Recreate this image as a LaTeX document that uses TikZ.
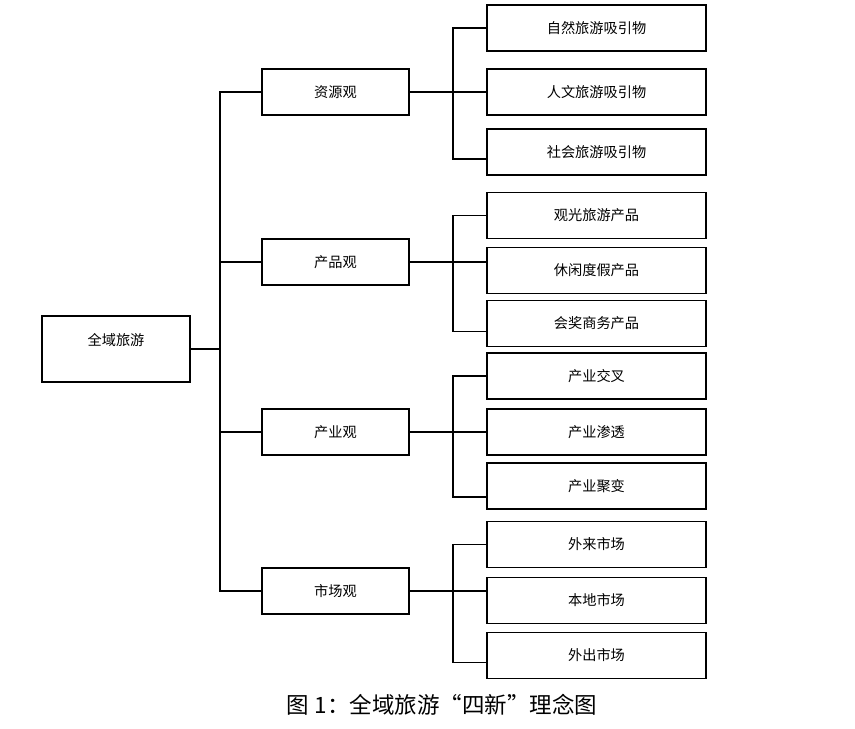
\documentclass[tikz,border=0pt]{standalone}
\usepackage{fontspec}
\newfontfamily\cjk{Noto Sans CJK SC}

\begin{document}
\begin{tikzpicture}[
        x=1pt, y=-1pt,
        font=\cjk\fontsize{14.2}{17}\selectfont,
        line width=1.1pt,
        rootbox/.style={draw, minimum width=148pt, minimum height=66pt, text depth=20pt, inner sep=0pt},
        midbox/.style={draw, minimum width=147pt, minimum height=46pt, inner sep=0pt},
        leafbox/.style={draw, minimum width=219pt, minimum height=46pt, inner sep=0pt},
        caption/.style={font=\cjk\fontsize{22.5}{26}\selectfont}
    ]

        \useasboundingbox (0,0) rectangle (855,729);

        % ========================================================
        % RAIZ
        % ========================================================
        \node[rootbox] (root) at (116, 349) {全域旅游};

        % ========================================================
        % NIVEL 2
        % ========================================================
        \node[midbox] (ziyuan) at (335.5, 92) {资源观};
        \node[midbox] (chanpin) at (335.5, 262) {产品观};
        \node[midbox] (chanye) at (335.5, 432) {产业观};
        \node[midbox] (shichang) at (335.5, 591) {市场观};

        % ========================================================
        % NIVEL 3
        % ========================================================
        \node[leafbox] (ziran) at (596.5, 28) {自然旅游吸引物};
        \node[leafbox] (renwen) at (596.5, 92) {人文旅游吸引物};
        \node[leafbox] (shehui) at (596.5, 152) {社会旅游吸引物};

        \node[leafbox] (guanguang) at (596.5, 215.5) {观光旅游产品};
        \node[leafbox] (xiuxian) at (596.5, 270.5) {休闲度假产品};
        \node[leafbox] (huijiang) at (596.5, 323.5) {会奖商务产品};

        \node[leafbox] (jiaocha) at (596.5, 376) {产业交叉};
        \node[leafbox] (shentou) at (596.5, 432) {产业渗透};
        \node[leafbox] (jubian) at (596.5, 486) {产业聚变};

        \node[leafbox] (wailai) at (596.5, 544.5) {外来市场};
        \node[leafbox] (bendi) at (596.5, 600.5) {本地市场};
        \node[leafbox] (waichu) at (596.5, 655.5) {外出市场};

        % ========================================================
        % CONECTORES
        % ========================================================
        \coordinate (trunk) at (220, 0);
        \coordinate (fork) at (453, 0);

        \draw (root.east) -- (root.east -| trunk);
        \draw (ziyuan.west) -- (ziyuan.west -| trunk) -- (shichang.west -| trunk) -- (shichang.west);
        \draw (chanpin.west) -- (chanpin.west -| trunk);
        \draw (chanye.west) -- (chanye.west -| trunk);

        \draw (ziyuan.east) -- (renwen.west);
        \draw (ziran.west) -- (ziran.west -| fork) -- ([yshift=-7pt]shehui.west -| fork) -- ([yshift=-7pt]shehui.west);

        \draw (chanpin.east) -- (chanpin.east -| xiuxian.west);
        \draw (guanguang.west) -- (guanguang.west -| fork) -- ([yshift=-8pt]huijiang.west -| fork) -- ([yshift=-8pt]huijiang.west);

        \draw (chanye.east) -- (shentou.west);
        \draw (jiaocha.west) -- (jiaocha.west -| fork) -- ([yshift=-11pt]jubian.west -| fork) -- ([yshift=-11pt]jubian.west);

        \draw (shichang.east) -- (shichang.east -| bendi.west);
        \draw (wailai.west) -- (wailai.west -| fork) -- ([yshift=-7pt]waichu.west -| fork) -- ([yshift=-7pt]waichu.west);

        % ========================================================
        % TITULO
        % ========================================================
        \node[caption] (titulo) at (442, 705) {图 1：全域旅游“四新”理念图};

    \end{tikzpicture}
\end{document}
